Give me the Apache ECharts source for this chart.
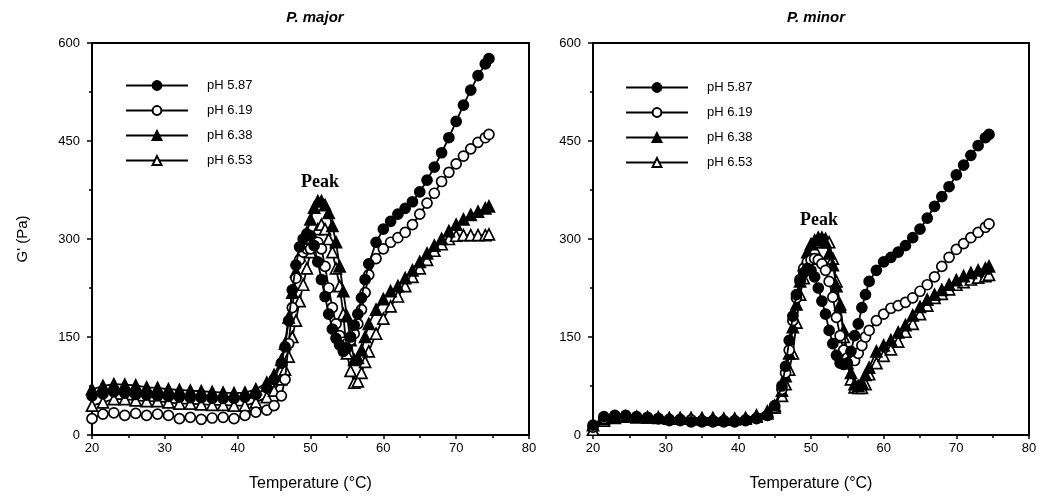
<!DOCTYPE html>
<html>
<head>
<meta charset="utf-8">
<script src="https://cdn.jsdelivr.net/npm/echarts@6/dist/echarts.min.js"></script>
<style>
  html, body { margin: 0; padding: 0; background: #fff; }
  #chart { width: 1046px; height: 497px; }
</style>
</head>
<body>
<div id="chart"></div>
<script>
// temperature points (°C), shared by every curve of a panel
const temps = [20, 21.5, 23, 24.5, 26, 27.5, 29, 30.5, 32, 33.5, 35, 36.5, 38, 39.5, 41, 42.5,
  44, 45, 46,
  46.5, 47, 47.5, 48, 48.5, 49, 49.5, 50, 50.5, 51, 51.5, 52, 52.5, 53, 53.5, 54, 54.5, 55, 55.5, 56, 56.5, 57, 57.5, 58,
  59, 60, 61, 62, 63, 64, 65, 66, 67, 68, 69, 70, 71, 72, 73, 74, 74.5];

const phNames = ['pH 5.87', 'pH 6.19', 'pH 6.38', 'pH 6.53'];
const xTicks = [20, 30, 40, 50, 60, 70, 80];
const yTicks = [0, 150, 300, 450, 600];

// P. major, G' (Pa)
const majorPh587 = [60, 63, 66, 64, 62, 61, 60, 59, 58, 57, 57, 56, 56, 56, 58, 62,
  72, 85, 110,
  135, 175, 222, 260, 288, 300, 308, 305, 290, 265, 238, 212, 185, 162, 148, 138, 128, 133, 150, 168, 185, 210, 238, 262,
  295, 315, 327, 338, 347, 357, 372, 390, 410, 432, 455, 480, 505, 528, 550, 568, 576];
const majorPh619 = [25, 32, 34, 30, 33, 30, 32, 30, 25, 27, 24, 26, 27, 25, 30, 35,
  38, 45, 60,
  85, 140, 195, 240, 268, 280, 285, 285, 292, 295, 285, 258, 225, 195, 170, 152, 142, 140, 145, 155, 170, 192, 218, 245,
  270, 285, 295, 302, 310, 322, 338, 355, 370, 388, 402, 415, 427, 438, 448, 455, 460];
const majorPh638 = [70, 75, 78, 77, 76, 73, 72, 70, 69, 68, 67, 66, 65, 64, 65, 70,
  80, 92, 115,
  140, 180, 218, 250, 275, 290, 310, 330, 348, 358, 358, 352, 340, 320, 295, 258, 220, 182, 145, 115, 118, 130, 150, 170,
  192, 208, 220, 228, 240, 252, 265, 278, 290, 300, 312, 322, 330, 337, 342, 347, 350];
const majorPh653 = [45, 50, 55, 55, 53, 52, 52, 50, 48, 48, 47, 46, 46, 45, 45, 50,
  58, 68, 85,
  100, 120, 150, 175, 205, 230, 255, 280, 300, 315, 322, 315, 300, 280, 255, 228, 185, 125, 98, 80, 82, 95, 112, 128,
  155, 178, 197, 212, 228, 242, 255, 268, 282, 292, 300, 305, 306, 306, 306, 306, 307];

// P. minor, G' (Pa)
const minorPh587 = [15, 28, 30, 30, 28, 27, 25, 22, 22, 20, 20, 20, 20, 20, 22, 25,
  30, 45, 75,
  105, 145, 182, 215, 235, 248, 255, 252, 242, 225, 205, 185, 160, 140, 122, 110, 108, 110, 128, 152, 170, 195, 215, 235,
  252, 265, 272, 280, 290, 302, 315, 332, 350, 365, 380, 398, 413, 428, 443, 455, 460];
const minorPh619 = [12, 25, 28, 28, 27, 26, 25, 24, 24, 23, 22, 22, 22, 22, 23, 26,
  30, 42, 70,
  95, 130, 175, 210, 238, 255, 265, 268, 270, 268, 262, 252, 235, 211, 180, 152, 130, 118, 114, 114, 125, 137, 150, 160,
  175, 185, 194, 198, 203, 210, 220, 230, 242, 258, 272, 284, 293, 302, 310, 318, 323];
const minorPh638 = [15, 25, 28, 28, 27, 27, 26, 25, 25, 25, 24, 24, 24, 24, 25, 28,
  33, 45, 68,
  90, 125, 165, 200, 235, 260, 280, 292, 298, 302, 302, 295, 278, 260, 228, 196, 160, 125, 95, 78, 75, 80, 92, 103,
  128, 137, 145, 157, 168, 183, 196, 207, 215, 222, 230, 237, 243, 248, 252, 255, 258];
const minorPh653 = [8, 22, 26, 28, 28, 27, 27, 26, 26, 26, 26, 26, 25, 25, 26, 30,
  36, 42, 60,
  78, 100, 125, 172, 215, 240, 258, 270, 285, 295, 300, 300, 295, 270, 235, 200, 150, 110, 85, 73, 72, 72, 78, 93,
  110, 121, 131, 143, 158, 170, 185, 198, 210, 216, 223, 230, 234, 238, 241, 243, 245];

const majorSets = [majorPh587, majorPh619, majorPh638, majorPh653];
const minorSets = [minorPh587, minorPh619, minorPh638, minorPh653];

// marker look per pH: filled circle, open circle, filled triangle, open triangle
const markerStyles = [
  { symbol: 'circle', size: 10, fill: '#000' },
  { symbol: 'circle', size: 10, fill: '#fff' },
  { symbol: 'triangle', size: 11, fill: '#000' },
  { symbol: 'triangle', size: 11, fill: '#fff' }
];

const font = 'Liberation Sans';

function makeX(gridIndex) {
  return {
    type: 'value', gridIndex: gridIndex,
    min: xTicks[0], max: xTicks[xTicks.length - 1], interval: 10,
    name: 'Temperature (°C)', nameLocation: 'middle', nameGap: 41,
    nameTextStyle: { fontSize: 16, color: '#000', fontFamily: font },
    axisLine: { lineStyle: { color: '#000', width: 2 } },
    axisTick: { lineStyle: { color: '#000', width: 1.5 }, length: 4 },
    minorTick: { show: true, splitNumber: 2, length: 3, lineStyle: { color: '#000', width: 1.5 } },
    axisLabel: { fontSize: 13, color: '#000', margin: 7, fontFamily: font },
    splitLine: { show: false }
  };
}

function makeY(gridIndex, withName) {
  return {
    type: 'value', gridIndex: gridIndex,
    min: yTicks[0], max: yTicks[yTicks.length - 1], interval: 150,
    name: withName ? "G' (Pa)" : '', nameLocation: 'middle', nameGap: 62, nameRotate: 90,
    nameTextStyle: { fontSize: 15, color: '#000', fontFamily: font },
    axisLine: { show: true, lineStyle: { color: '#000', width: 2 } },
    axisTick: { show: true, lineStyle: { color: '#000', width: 1.5 }, length: 5 },
    minorTick: { show: true, splitNumber: 2, length: 3, lineStyle: { color: '#000', width: 1.5 } },
    axisLabel: { fontSize: 13, color: '#000', margin: 12, fontFamily: font },
    splitLine: { show: false }
  };
}

function makeSeries(sets, axisIndex) {
  return sets.map(function (vals, i) {
    const m = markerStyles[i];
    return {
      name: phNames[i], type: 'line',
      xAxisIndex: axisIndex, yAxisIndex: axisIndex,
      data: temps.map(function (t, k) { return [t, vals[k]]; }),
      symbol: m.symbol, symbolSize: m.size, showAllSymbol: true,
      lineStyle: { color: '#000', width: 1.8 },
      itemStyle: { color: m.fill, borderColor: '#000', borderWidth: 1.7 },
      z: 10 - i
    };
  });
}

function makeLegend(left, top) {
  return {
    left: left, top: top, orient: 'vertical',
    itemWidth: 62, itemHeight: 11, itemGap: 12,
    data: phNames,
    textStyle: { fontSize: 13, color: '#000', fontFamily: font, padding: [0, 0, 0, 14] },
    selectedMode: false
  };
}

let myChart = echarts.init(document.getElementById('chart'));
let option = {
  animation: false,
  backgroundColor: '#fff',
  textStyle: { fontFamily: font },
  title: [
    { text: 'P. major', left: 310, top: 5, textAlign: 'center',
      textStyle: { fontSize: 15, fontWeight: 'bold', fontStyle: 'italic', color: '#000', fontFamily: font } },
    { text: 'P. minor', left: 811, top: 5, textAlign: 'center',
      textStyle: { fontSize: 15, fontWeight: 'bold', fontStyle: 'italic', color: '#000', fontFamily: font } }
  ],
  legend: [makeLegend(120, 74), makeLegend(620, 76)],
  grid: [
    { left: 92, top: 43, width: 437, height: 392, show: true, borderColor: '#000', borderWidth: 2 },
    { left: 593, top: 43, width: 436, height: 392, show: true, borderColor: '#000', borderWidth: 2 }
  ],
  xAxis: [makeX(0), makeX(1)],
  yAxis: [makeY(0, true), makeY(1, false)],
  graphic: [
    { type: 'text', x: 320, y: 182, style: { text: 'Peak', font: 'bold 18px "Liberation Serif"', fill: '#000', align: 'center', verticalAlign: 'middle' } },
    { type: 'text', x: 819, y: 220, style: { text: 'Peak', font: 'bold 18px "Liberation Serif"', fill: '#000', align: 'center', verticalAlign: 'middle' } }
  ],
  series: makeSeries(majorSets, 0).concat(makeSeries(minorSets, 1))
};

myChart.setOption(option);
window.addEventListener('resize', function () {
  myChart.resize();
});
</script>
</body>
</html>
